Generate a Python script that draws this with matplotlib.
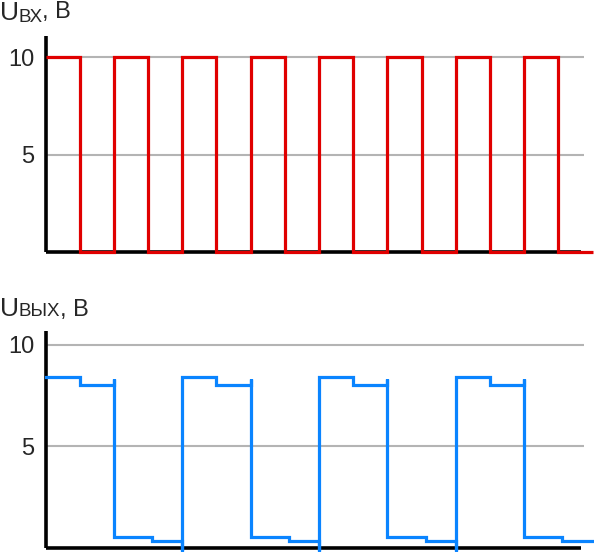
import matplotlib
matplotlib.use('Agg')
import matplotlib.pyplot as plt

plt.rcParams['font.family'] = ['Liberation Sans', 'DejaVu Sans']

# Input signal: square wave, levels between edges (time in half-periods)
in_edges = [0, 1, 2, 3, 4, 5, 6, 7, 8, 9, 10, 11, 12, 13, 14, 15, 16]
in_levels = [10, 0, 10, 0, 10, 0, 10, 0, 10, 0, 10, 0, 10, 0, 10, 0]

# Output signal: breakpoints of the divided waveform
out_t = [0, 1, 1, 2, 2, 2, 3.12, 3.12, 4,
         4, 4, 5, 5, 6, 6, 6, 7.12, 7.12, 8,
         8, 8, 9, 9, 10, 10, 10, 11.12, 11.12, 12,
         12, 12, 13, 13, 14, 14, 14, 15.12, 15.12, 16]
out_v = [8.43, 8.43, 8.02, 8.02, 8.32, 0.52, 0.52, 0.30, 0.30,
         -0.17, 8.43, 8.43, 8.02, 8.02, 8.32, 0.52, 0.52, 0.30, 0.30,
         -0.17, 8.43, 8.43, 8.02, 8.02, 8.32, 0.52, 0.52, 0.30, 0.30,
         -0.17, 8.43, 8.43, 8.02, 8.02, 8.32, 0.52, 0.52, 0.30, 0.30]

y_ticks = [5, 10]

W, H = 594, 553
TXT = '#262626'
fig = plt.figure(figsize=(W / 100, H / 100), dpi=100)
renderer = fig.canvas.get_renderer()


def px_axes(x0, y0, x1, y1):
    # pixel box (top-left origin) -> figure axes
    return fig.add_axes([x0 / W, 1 - y1 / H, (x1 - x0) / W, (y1 - y0) / H])


def style(ax, ytop):
    ax.set_xlim(0, 15.75)
    ax.set_ylim(0, ytop)
    ax.set_yticks(y_ticks)
    ax.set_xticks([])
    ax.tick_params(axis='y', length=0, pad=8, labelsize=17, labelcolor=TXT)
    for s in ['top', 'right']:
        ax.spines[s].set_visible(False)
    for s in ['left', 'bottom']:
        ax.spines[s].set_linewidth(2.6)
        ax.spines[s].set_color('black')
        ax.spines[s].set_capstyle('butt')
    ax.spines['bottom'].set_bounds(0, 15.66)
    ax.grid(axis='y', color='#b4b4b4', linewidth=1.5)
    ax.set_axisbelow(True)


ax1 = px_axes(45.5, 36, 584, 252)
style(ax1, 11.1)
ax1.stairs(in_levels, in_edges, baseline=None, color='#e00000', linewidth=2.3,
           clip_on=False, zorder=5)

ax2 = px_axes(45.5, 331, 584, 547.5)
style(ax2, 10.69)
ax2.plot(out_t, out_v, color='#0a84ff', linewidth=2.3, clip_on=False, zorder=5,
         solid_joinstyle='miter')


def label(y_base, sub, dy_sub=0, dy_rest=0):
    # "U" + subscript + ", В", each piece placed right after the previous one
    x = 0
    for s, size, dy in [('U', 19, 0), (sub, 13.5, dy_sub), (', В', 17, dy_rest)]:
        t = fig.text(x / W, 1 - (y_base + dy) / H, s, fontsize=size, color=TXT,
                     va='baseline')
        x = t.get_window_extent(renderer).x1 - 0.5


label(20, 'ВХ', dy_sub=1.5, dy_rest=-2)
label(316, 'ВЫХ')

fig.savefig('out.png', dpi=100)
